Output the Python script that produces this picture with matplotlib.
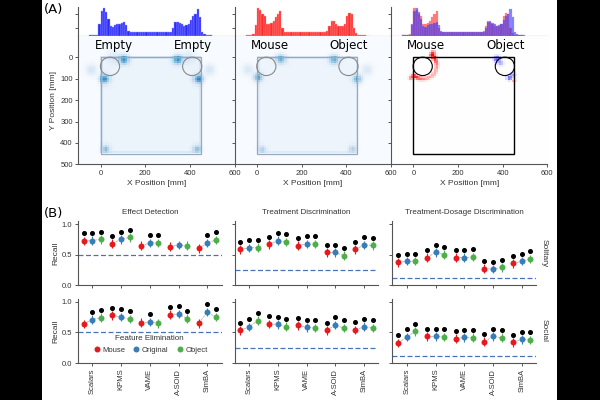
import numpy as np
import matplotlib
matplotlib.use("Agg")
import matplotlib.pyplot as plt
from matplotlib.patches import Rectangle, Circle
from matplotlib.lines import Line2D

plt.rcParams['font.family'] = ['Liberation Sans', 'DejaVu Sans']

# ---------------- data: histograms (x-position occupancy, 10 mm bins) ----------------
hist_bin_left = list(range(-50, 500, 10))
hist_empty = [0.02, 0.03, 0.04, 0.05, 0.45, 0.90, 1.00, 0.87, 0.62, 0.36, 0.33, 0.40,
              0.42, 0.45, 0.48, 0.52, 0.40, 0.18, 0.14, 0.15, 0.15, 0.14, 0.14, 0.14,
              0.14, 0.14, 0.14, 0.14, 0.14, 0.14, 0.14, 0.14, 0.15, 0.15, 0.15, 0.16,
              0.16, 0.30, 0.50, 0.52, 0.47, 0.42, 0.38, 0.40, 0.45, 0.58, 0.72, 0.80,
              0.98, 0.70, 0.15, 0.06, 0.04, 0.03, 0.02]
hist_mouse_object = [0.02, 0.03, 0.04, 0.06, 0.40, 1.02, 0.95, 0.80, 0.72, 0.43, 0.43, 0.48,
                     0.53, 0.68, 0.80, 0.90, 0.30, 0.15, 0.13, 0.13, 0.13, 0.13, 0.13, 0.13,
                     0.13, 0.13, 0.13, 0.13, 0.13, 0.13, 0.13, 0.14, 0.14, 0.15, 0.15, 0.16,
                     0.18, 0.35, 0.55, 0.53, 0.42, 0.35, 0.35, 0.38, 0.42, 0.73, 0.82, 0.78,
                     0.30, 0.10, 0.05, 0.03, 0.02, 0.02, 0.01]

# ---------------- data: heat-map hot spots (x mm, y mm, weight, spread mm) ----------------
empty_spot_x = [105, 19, -40, 24, 345, 437, 485, 430, 60, 395]
empty_spot_y = [15, 105, 62, 430, 15, 105, 62, 430, 0, 0]
empty_spot_w = [0.55, 0.60, 0.16, 0.40, 0.55, 0.60, 0.16, 0.40, 0.12, 0.12]
empty_spot_s = [15, 15, 18, 12, 15, 15, 18, 12, 22, 22]

mouse_spot_x = [104, 2, -42, 22, 343, 445, 488, 425]
mouse_spot_y = [12, 97, 60, 432, 15, 105, 62, 430]
mouse_spot_w = [0.45, 0.45, 0.14, 0.28, 0.45, 0.45, 0.14, 0.28]
mouse_spot_s = [15, 15, 18, 12, 15, 15, 18, 12]

# difference map: red crescent around the mouse cup, blue spots near the object
diff_spot_x = [88, 82, 93, 100, 104, 103, 98, 90, 78, 63, 47, 31, 16, 2, -12,
               372, 388, 428, 442, 447]
diff_spot_y = [-18, -5, 6, 21, 37, 53, 68, 82, 93, 100, 104, 103, 98, 90, 100,
               12, 30, 100, 85, 112]
diff_spot_w = [0.6, 0.8, 0.85, 0.7, 0.45, 0.35, 0.3, 0.3, 0.3, 0.35, 0.4, 0.55, 0.75, 0.85, 0.5,
               -0.65, -0.35, -0.65, -0.35, 0.35]
diff_spot_s = [7, 7, 7, 7, 7, 7, 7, 7, 7, 7, 7, 7, 7, 7, 7, 9, 9, 8, 8, 6]

arena_size = 450
circle_x = [42, 410]
circle_y = [42, 42]
circle_r = 43
label_x = [58, 412]
panel_labels = [("Empty", "Empty"), ("Mouse", "Object"), ("Mouse", "Object")]

# ---------------- data: recall panels ----------------
methods = ["Scalars", "KPMS", "VAME", "A-SOiD", "SimBA"]
task_titles = ["Effect Detection", "Treatment Discrimination", "Treatment-Dosage Discrimination"]
row_titles = ["Solitary", "Social"]
chance_levels = [0.5, 0.25, 0.115]

solitary_effect_mouse = [0.72, 0.68, 0.645, 0.63, 0.60]
solitary_effect_original = [0.73, 0.75, 0.69, 0.655, 0.69]
solitary_effect_object = [0.75, 0.78, 0.69, 0.645, 0.74]
solitary_effect_sig_mouse = [1, 1, 0, 0, 0]
solitary_effect_sig_original = [1, 1, 1, 0, 1]
solitary_effect_sig_object = [1, 1, 1, 0, 1]

solitary_treat_mouse = [0.585, 0.667, 0.645, 0.535, 0.585]
solitary_treat_original = [0.61, 0.726, 0.672, 0.535, 0.655]
solitary_treat_object = [0.615, 0.705, 0.672, 0.48, 0.65]
solitary_treat_sig_mouse = [1, 1, 1, 1, 1]
solitary_treat_sig_original = [1, 1, 1, 1, 1]
solitary_treat_sig_object = [1, 1, 1, 1, 1]

solitary_dose_mouse = [0.37, 0.45, 0.45, 0.27, 0.355]
solitary_dose_original = [0.39, 0.535, 0.45, 0.26, 0.39]
solitary_dose_object = [0.39, 0.50, 0.46, 0.29, 0.43]
solitary_dose_sig_mouse = [1, 1, 1, 1, 1]
solitary_dose_sig_original = [1, 1, 1, 1, 1]
solitary_dose_sig_object = [1, 1, 1, 1, 1]

social_effect_mouse = [0.64, 0.78, 0.66, 0.79, 0.65]
social_effect_original = [0.71, 0.75, 0.67, 0.80, 0.83]
social_effect_object = [0.74, 0.72, 0.65, 0.726, 0.75]
social_effect_sig_mouse = [0, 1, 0, 1, 0]
social_effect_sig_original = [1, 1, 1, 1, 1]
social_effect_sig_object = [1, 1, 0, 1, 1]

social_treat_mouse = [0.535, 0.64, 0.615, 0.535, 0.54]
social_treat_original = [0.59, 0.63, 0.585, 0.62, 0.595]
social_treat_object = [0.69, 0.595, 0.57, 0.57, 0.57]
social_treat_sig_mouse = [1, 1, 1, 1, 1]
social_treat_sig_original = [1, 1, 1, 1, 1]
social_treat_sig_object = [1, 1, 1, 1, 1]

social_dose_mouse = [0.33, 0.437, 0.40, 0.35, 0.34]
social_dose_original = [0.425, 0.437, 0.42, 0.437, 0.39]
social_dose_object = [0.52, 0.425, 0.415, 0.415, 0.377]
social_dose_sig_mouse = [1, 1, 1, 1, 1]
social_dose_sig_original = [1, 1, 1, 1, 1]
social_dose_sig_object = [1, 1, 1, 1, 1]

recall_err = 0.07
sig_offset = 0.125

series_names = ["Mouse", "Original", "Object"]
series_colors = ["#e41a1c", "#377eb8", "#4daf4a"]
series_offsets = [-0.3, 0.0, 0.3]

panels = [
    [(solitary_effect_mouse, solitary_effect_original, solitary_effect_object,
      solitary_effect_sig_mouse, solitary_effect_sig_original, solitary_effect_sig_object),
     (solitary_treat_mouse, solitary_treat_original, solitary_treat_object,
      solitary_treat_sig_mouse, solitary_treat_sig_original, solitary_treat_sig_object),
     (solitary_dose_mouse, solitary_dose_original, solitary_dose_object,
      solitary_dose_sig_mouse, solitary_dose_sig_original, solitary_dose_sig_object)],
    [(social_effect_mouse, social_effect_original, social_effect_object,
      social_effect_sig_mouse, social_effect_sig_original, social_effect_sig_object),
     (social_treat_mouse, social_treat_original, social_treat_object,
      social_treat_sig_mouse, social_treat_sig_original, social_treat_sig_object),
     (social_dose_mouse, social_dose_original, social_dose_object,
      social_dose_sig_mouse, social_dose_sig_original, social_dose_sig_object)],
]

# ---------------- figure ----------------
W, H = 600.0, 400.0
fig = plt.figure(figsize=(6, 4), dpi=100)
fig.patch.set_facecolor("white")


def fx(px):
    return px / W


def fy(py):
    return 1 - py / H


spine_col = "#555555"
tick_fs = 5.5

# black side bands
fig.patches.append(Rectangle((0, 0), fx(41.7), 1, transform=fig.transFigure,
                             facecolor="black", edgecolor="none", zorder=10))
fig.patches.append(Rectangle((fx(556.7), 0), 1 - fx(556.7), 1, transform=fig.transFigure,
                             facecolor="black", edgecolor="none", zorder=10))


def style_axes(ax):
    for s in ["top", "right"]:
        ax.spines[s].set_visible(False)
    for s in ["left", "bottom"]:
        ax.spines[s].set_color(spine_col)
        ax.spines[s].set_linewidth(0.8)
    ax.tick_params(colors=spine_col, labelcolor="#333333", labelsize=tick_fs,
                   length=2.5, width=0.7, pad=1.5)


def density(xs, ys, ws, ss, base_inside, wall):
    gx = np.arange(-95, 600, 10)
    gy = np.arange(-95, 500, 10)
    X, Y = np.meshgrid(gx, gy)
    D = np.zeros_like(X, dtype=float)
    inside = (X >= 0) & (X <= arena_size) & (Y >= 0) & (Y <= arena_size)
    D[inside] += base_inside
    near_wall = inside & ((X < 15) | (X > arena_size - 15) | (Y < 15) | (Y > arena_size - 15))
    D[near_wall] += wall
    for x0, y0, w, s in zip(xs, ys, ws, ss):
        D += w * np.exp(-((X - x0) ** 2 + (Y - y0) ** 2) / (2.0 * s ** 2))
    return D


heat_left = [78.3, 234.6, 391.0]
heat_w = 156.3
hist_top, hist_bot = 7.0, 36.0
heat_bot = 164.3

bin_centers = np.array(hist_bin_left) + 5

for i in range(3):
    # histogram
    axh = fig.add_axes([fx(heat_left[i]), fy(hist_bot), heat_w / W, (hist_bot - hist_top) / H])
    style_axes(axh)
    if i == 0:
        axh.bar(bin_centers, hist_empty, width=10, color="#2a2aff", edgecolor="#a0a0ff",
                linewidth=0.3)
    elif i == 1:
        axh.bar(bin_centers, hist_mouse_object, width=10, color="#ff2a2a", edgecolor="#ffa0a0",
                linewidth=0.3)
    else:
        axh.bar(bin_centers, hist_mouse_object, width=10, color="#ff2020", edgecolor="#ff9090",
                linewidth=0.3, alpha=0.6)
        axh.bar(bin_centers, hist_empty, width=10, color="#2020ff", edgecolor="#9090ff",
                linewidth=0.3, alpha=0.55)
    axh.set_xlim(-100, 600)
    axh.set_ylim(0, 1.05)
    axh.set_xticks([])
    axh.set_yticks([0.3, 0.8])
    axh.set_yticklabels([])

    # heat map
    ax = fig.add_axes([fx(heat_left[i]), fy(heat_bot), heat_w / W, (heat_bot - hist_bot) / H])
    style_axes(ax)
    if i == 0:
        D = density(empty_spot_x, empty_spot_y, empty_spot_w, empty_spot_s, 0.06, 0.08)
        ax.imshow(D, extent=(-100, 600, 500, -100), cmap="Blues", vmin=0, vmax=1.0,
                  interpolation="nearest", aspect="auto")
    elif i == 1:
        D = density(mouse_spot_x, mouse_spot_y, mouse_spot_w, mouse_spot_s, 0.05, 0.07)
        ax.imshow(D, extent=(-100, 600, 500, -100), cmap="Blues", vmin=0, vmax=1.0,
                  interpolation="nearest", aspect="auto")
    else:
        D = density(diff_spot_x, diff_spot_y, diff_spot_w, diff_spot_s, 0.0, 0.0)
        ax.imshow(D, extent=(-100, 600, 500, -100), cmap="bwr",
                  vmin=-1, vmax=1, interpolation="nearest", aspect="auto")
    ax.set_xlim(-100, 600)
    ax.set_ylim(500, -100)
    edge = "black" if i == 2 else "#9aa8b8"
    elw = 1.0 if i == 2 else 0.9
    ax.add_patch(Rectangle((0, 0), arena_size, arena_size, fill=False, edgecolor=edge,
                           linewidth=elw, zorder=3))
    cc = "black" if i == 2 else "#8a8a8a"
    for cx, cy in zip(circle_x, circle_y):
        ax.add_patch(Circle((cx, cy), circle_r, fill=False, edgecolor=cc, linewidth=0.8,
                            zorder=4))
    for lx, lab in zip(label_x, panel_labels[i]):
        ax.text(lx, -55, lab, ha="center", va="center", fontsize=8.5,
                family="DejaVu Sans", color="black")
    ax.set_xticks([0, 200, 400, 600])
    ax.set_yticks([0, 100, 200, 300, 400, 500])
    if i > 0:
        ax.set_yticklabels([])
    else:
        ax.set_ylabel("Y Position [mm]", fontsize=6, color="#333333", labelpad=2)
    ax.set_xlabel("X Position [mm]", fontsize=6, color="#333333", labelpad=2)

fig.text(fx(44), fy(9), "(A)", fontsize=9.5, family="DejaVu Sans", va="center", ha="left")
fig.text(fx(44), fy(213), "(B)", fontsize=9.5, family="DejaVu Sans", va="center", ha="left")

# ---------------- recall panels ----------------
col_left = [77.9, 234.6, 392.4]
col_w = 143.8
row_bot = [285.0, 363.3]
row_h = [64.0, 64.7]
xs = np.arange(len(methods))

for r in range(2):
    for c in range(3):
        ax = fig.add_axes([fx(col_left[c]), fy(row_bot[r]), col_w / W, row_h[r] / H])
        style_axes(ax)
        vals = panels[r][c][:3]
        sigs = panels[r][c][3:]
        ax.axhline(chance_levels[c], color="#4a72b8", linestyle=(0, (4, 2)), linewidth=0.9,
                   zorder=1)
        for g in range(len(methods)):
            gx = [g + o for o in series_offsets]
            gy = [vals[k][g] for k in range(3)]
            ax.plot(gx, gy, color="#a8a8a8", linewidth=0.5, linestyle="--", zorder=2)
        for k in range(3):
            v = np.array(vals[k])
            ax.errorbar(xs + series_offsets[k], v, yerr=recall_err, fmt="o",
                        color=series_colors[k], ecolor=series_colors[k], elinewidth=0.8,
                        capsize=1.6, capthick=0.8, markersize=4.3, zorder=3,
                        markeredgewidth=0)
            s = np.array(sigs[k]).astype(bool)
            ax.plot((xs + series_offsets[k])[s], v[s] + sig_offset, "o", color="black",
                    markersize=2.6, zorder=4)
        ax.set_xlim(-0.5, 4.5)
        ax.set_ylim(0, 1.05)
        ax.set_yticks([0.0, 0.5, 1.0])
        ax.set_xticks(xs)
        if c == 0:
            ax.set_yticklabels(["0.0", "0.5", "1.0"])
            ax.set_ylabel("Recall", fontsize=6, color="#333333", labelpad=2)
        else:
            ax.set_yticklabels([])
        if r == 1:
            ax.set_xticklabels(methods, rotation=90, fontsize=tick_fs)
        else:
            ax.set_xticklabels([])
            ax.set_title(task_titles[c], fontsize=5.8, color="#333333", pad=5)
        if c == 2:
            ax.text(1.03, 0.5, row_titles[r], transform=ax.transAxes, rotation=-90,
                    fontsize=6, color="#333333", va="center", ha="left")
        if r == 1 and c == 0:
            handles = [Line2D([], [], marker="o", linestyle="none", color=series_colors[k],
                              markersize=4.3, markeredgewidth=0) for k in range(3)]
            leg = ax.legend(handles, series_names, loc="lower center", ncol=3, frameon=False,
                            fontsize=5.5, title="Feature Elimination", title_fontsize=5.8,
                            handletextpad=0.1, columnspacing=0.9, borderaxespad=0.2,
                            handlelength=1.2, bbox_to_anchor=(0.5, 0.08))
            for t in leg.texts:
                t.set_color("#333333")
            leg.get_title().set_color("#333333")

fig.savefig("out.png", dpi=100)
